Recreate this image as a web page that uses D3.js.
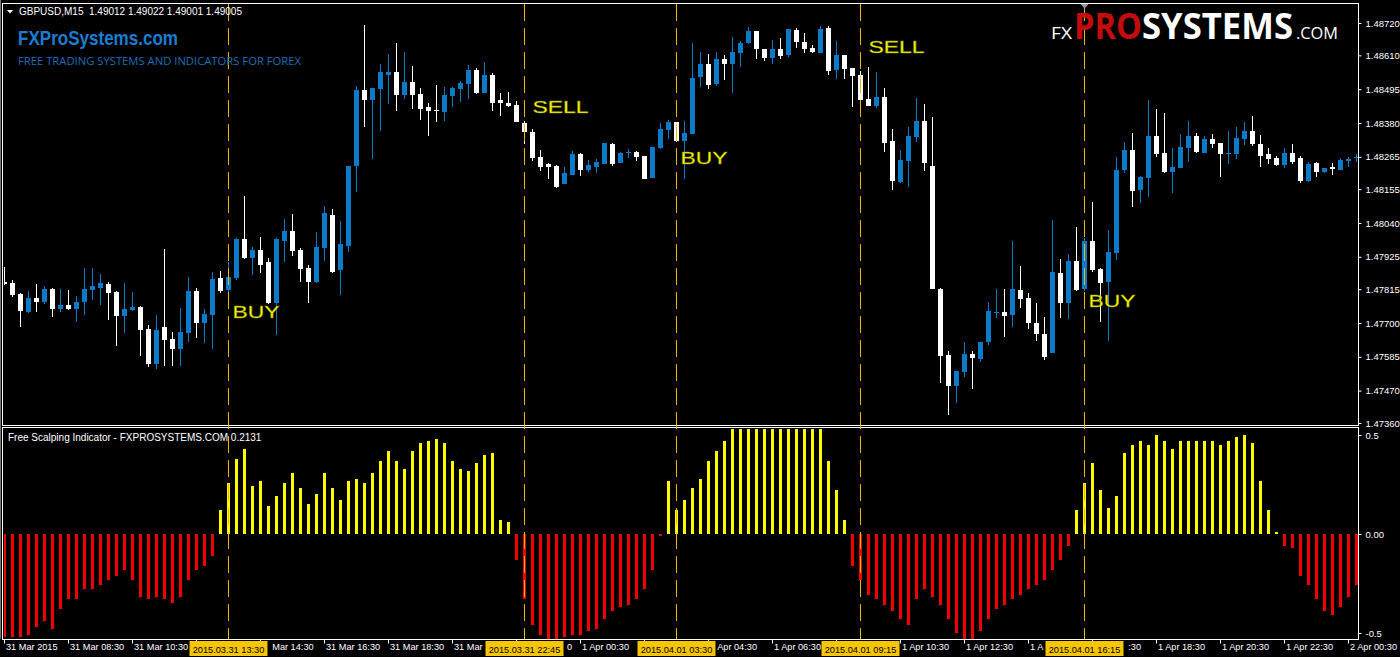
<!DOCTYPE html>
<html><head><meta charset="utf-8">
<script src="https://cdn.jsdelivr.net/npm/d3@7"></script>
<style>body{margin:0;background:#000;overflow:hidden}svg{display:block}</style>
</head><body>
<svg id="c" width="1400" height="657"></svg>
<script>
// ---------------- DATA ----------------
const symbolHeader = "GBPUSD,M15  1.49012 1.49022 1.49001 1.49005";
const indicatorTitle = "Free Scalping Indicator - FXPROSYSTEMS.COM 0.2131";

const openP = [
1.47839,1.47836,1.47799,1.47737,1.47785,1.47771,1.47816,1.47748,1.47761,1.47748,
1.47771,1.47812,1.47819,1.47833,1.47805,1.47724,1.47744,1.47754,1.47680,1.47561,
1.47686,1.47646,1.47612,1.47666,1.47809,1.47700,1.47727,1.47853,1.47812,1.47853,
1.47986,1.47921,1.47948,1.47907,1.47768,1.47979,1.48013,1.47948,1.47887,1.47839,
1.47955,1.48067,1.47880,1.47962,1.48234,1.48492,1.48458,1.48496,1.48543,1.48553,
1.48475,1.48519,1.48479,1.48434,1.48424,1.48417,1.48472,1.48496,1.48513,1.48560,
1.48482,1.48543,1.48458,1.48448,1.48441,1.48380,1.48349,1.48264,1.48241,1.48234,
1.48173,1.48203,1.48275,1.48220,1.48230,1.48241,1.48309,1.48244,1.48278,1.48281,
1.48268,1.48193,1.48295,1.48356,1.48383,1.48319,1.48343,1.48536,1.48581,1.48513,
1.48598,1.48581,1.48618,1.48652,1.48693,1.48632,1.48601,1.48632,1.48611,1.48696,
1.48655,1.48635,1.48618,1.48703,1.48560,1.48611,1.48567,1.48543,1.48462,1.48438,
1.48468,1.48319,1.48179,1.48251,1.48332,1.48387,1.48234,1.47816,1.47591,1.47486,
1.47533,1.47595,1.47578,1.47635,1.47734,1.47737,1.47727,1.47812,1.47785,1.47700,
1.47663,1.47598,1.47870,1.47768,1.47911,1.47816,1.47979,1.47884,1.47839,1.47938,
1.48220,1.48288,1.48152,1.48193,1.48336,1.48278,1.48213,1.48227,1.48295,1.48336,
1.48278,1.48326,1.48312,1.48275,1.48275,1.48326,1.48353,1.48309,1.48275,1.48261,
1.48237,1.48278,1.48261,1.48183,1.48244,1.48213,1.48230,1.48220,1.48251,1.48261];

const highP = [
1.47890,1.47846,1.47802,1.47809,1.47833,1.47826,1.47819,1.47816,1.47812,1.47792,
1.47887,1.47887,1.47867,1.47839,1.47809,1.47836,1.47805,1.47758,1.47693,1.47727,
1.47952,1.47669,1.47751,1.47856,1.47819,1.47748,1.47873,1.47877,1.47907,1.47989,
1.48132,1.47958,1.47992,1.47921,1.47989,1.48054,1.48071,1.47955,1.47897,1.48009,
1.48098,1.48088,1.48047,1.48234,1.48506,1.48713,1.48499,1.48581,1.48615,1.48652,
1.48621,1.48574,1.48499,1.48448,1.48509,1.48502,1.48502,1.48523,1.48577,1.48567,
1.48587,1.48550,1.48482,1.48485,1.48455,1.48387,1.48360,1.48288,1.48244,1.48237,
1.48230,1.48285,1.48278,1.48254,1.48258,1.48312,1.48312,1.48281,1.48292,1.48285,
1.48268,1.48298,1.48380,1.48390,1.48383,1.48387,1.48652,1.48621,1.48615,1.48621,
1.48611,1.48672,1.48659,1.48706,1.48693,1.48632,1.48662,1.48669,1.48700,1.48703,
1.48686,1.48645,1.48710,1.48710,1.48659,1.48611,1.48567,1.48557,1.48570,1.48553,
1.48499,1.48360,1.48288,1.48366,1.48465,1.48445,1.48400,1.47819,1.47605,1.47537,
1.47635,1.47605,1.47635,1.47771,1.47816,1.47816,1.47979,1.47894,1.47802,1.47768,
1.47720,1.48050,1.47918,1.47935,1.48026,1.47989,1.48111,1.47887,1.48016,1.48264,
1.48315,1.48346,1.48200,1.48458,1.48428,1.48414,1.48295,1.48343,1.48387,1.48346,
1.48336,1.48343,1.48312,1.48353,1.48366,1.48383,1.48404,1.48339,1.48295,1.48268,
1.48295,1.48309,1.48268,1.48247,1.48247,1.48227,1.48244,1.48261,1.48264,1.48275];

const lowP = [
1.47829,1.47788,1.47686,1.47734,1.47737,1.47765,1.47720,1.47737,1.47744,1.47703,
1.47727,1.47778,1.47761,1.47710,1.47622,1.47666,1.47741,1.47588,1.47550,1.47544,
1.47554,1.47554,1.47554,1.47635,1.47649,1.47632,1.47612,1.47802,1.47805,1.47846,
1.47918,1.47863,1.47870,1.47765,1.47659,1.47907,1.47928,1.47839,1.47768,1.47836,
1.47911,1.47870,1.47795,1.47941,1.48145,1.48366,1.48258,1.48353,1.48445,1.48421,
1.48462,1.48428,1.48390,1.48336,1.48383,1.48387,1.48434,1.48451,1.48462,1.48479,
1.48482,1.48421,1.48404,1.48434,1.48383,1.48309,1.48251,1.48217,1.48190,1.48159,
1.48173,1.48203,1.48200,1.48213,1.48210,1.48241,1.48234,1.48244,1.48261,1.48251,
1.48190,1.48193,1.48292,1.48326,1.48315,1.48190,1.48343,1.48502,1.48496,1.48506,
1.48526,1.48482,1.48570,1.48649,1.48598,1.48591,1.48581,1.48598,1.48604,1.48635,
1.48618,1.48618,1.48618,1.48543,1.48530,1.48530,1.48434,1.48451,1.48438,1.48431,
1.48281,1.48152,1.48176,1.48162,1.48315,1.48217,1.47816,1.47496,1.47387,1.47428,
1.47516,1.47476,1.47567,1.47625,1.47717,1.47652,1.47686,1.47751,1.47680,1.47639,
1.47574,1.47598,1.47717,1.47714,1.47809,1.47809,1.47873,1.47703,1.47639,1.47914,
1.48210,1.48094,1.48108,1.48128,1.48264,1.48210,1.48142,1.48227,1.48247,1.48278,
1.48278,1.48295,1.48196,1.48241,1.48258,1.48305,1.48302,1.48230,1.48241,1.48234,
1.48227,1.48241,1.48176,1.48179,1.48196,1.48210,1.48203,1.48220,1.48230,1.48247];

const closeP = [
1.47833,1.47795,1.47741,1.47785,1.47771,1.47816,1.47748,1.47761,1.47748,1.47771,
1.47816,1.47826,1.47836,1.47802,1.47724,1.47748,1.47754,1.47676,1.47561,1.47676,
1.47642,1.47612,1.47669,1.47809,1.47700,1.47731,1.47850,1.47809,1.47856,1.47986,
1.47921,1.47948,1.47897,1.47768,1.47986,1.48013,1.47945,1.47884,1.47839,1.47958,
1.48074,1.47873,1.47969,1.48234,1.48492,1.48458,1.48499,1.48553,1.48553,1.48475,
1.48519,1.48475,1.48428,1.48421,1.48421,1.48475,1.48499,1.48516,1.48560,1.48482,
1.48543,1.48448,1.48448,1.48438,1.48383,1.48349,1.48261,1.48230,1.48230,1.48162,
1.48210,1.48275,1.48220,1.48237,1.48247,1.48312,1.48241,1.48278,1.48281,1.48264,
1.48190,1.48298,1.48360,1.48383,1.48319,1.48346,1.48533,1.48581,1.48509,1.48598,
1.48581,1.48621,1.48652,1.48693,1.48632,1.48601,1.48632,1.48608,1.48700,1.48655,
1.48632,1.48621,1.48700,1.48557,1.48611,1.48564,1.48540,1.48458,1.48438,1.48468,
1.48312,1.48183,1.48254,1.48336,1.48387,1.48244,1.47816,1.47588,1.47486,1.47537,
1.47595,1.47581,1.47635,1.47741,1.47737,1.47724,1.47816,1.47782,1.47700,1.47663,
1.47584,1.47873,1.47768,1.47911,1.47812,1.47979,1.47880,1.47836,1.47941,1.48220,
1.48288,1.48149,1.48196,1.48336,1.48275,1.48213,1.48230,1.48298,1.48336,1.48281,
1.48326,1.48309,1.48275,1.48278,1.48329,1.48353,1.48309,1.48268,1.48258,1.48237,
1.48278,1.48247,1.48183,1.48241,1.48213,1.48227,1.48224,1.48254,1.48258,1.48264];

// Free Scalping Indicator histogram (one value per bar)
const scalpHist = [
-0.52,-0.52,-0.52,-0.51,-0.47,-0.44,-0.48,-0.38,-0.33,-0.33,
-0.28,-0.28,-0.26,-0.23,-0.21,-0.18,-0.23,-0.32,-0.33,-0.32,
-0.33,-0.35,-0.32,-0.23,-0.18,-0.16,-0.11,
0.12,0.26,0.38,0.43,0.24,0.27,0.14,0.19,0.26,0.31,0.23,0.15,0.20,0.31,0.23,0.17,0.27,0.28,0.26,0.31,0.37,0.42,0.37,0.33,0.42,0.46,0.47,0.48,0.46,0.37,0.33,0.32,0.36,0.40,0.41,0.07,0.06,
-0.13,-0.33,-0.46,-0.51,-0.53,-0.53,-0.52,-0.51,-0.51,-0.49,-0.48,-0.43,-0.39,-0.37,-0.36,-0.33,-0.28,-0.18,-0.01,
0.27,0.12,0.17,0.23,0.28,0.37,0.42,0.47,0.53,0.53,0.53,0.53,0.53,0.53,0.53,0.53,0.53,0.53,0.53,0.53,0.37,0.22,0.07,
-0.16,-0.23,-0.31,-0.33,-0.36,-0.39,-0.43,-0.46,-0.33,-0.28,-0.32,-0.36,-0.43,-0.50,-0.53,-0.53,-0.49,-0.43,-0.38,-0.36,-0.33,-0.31,-0.28,-0.26,-0.23,-0.18,-0.13,-0.06,
0.12,0.26,0.36,0.22,0.13,0.19,0.41,0.45,0.47,0.45,0.50,0.47,0.43,0.47,0.47,0.47,0.47,0.47,0.45,0.47,0.49,0.50,0.46,0.27,0.12,
0.01,
-0.06,-0.07,-0.21,-0.26,-0.33,-0.39,-0.41,-0.37,-0.32,-0.26];

const priceTicks = [1.48720,1.48610,1.48495,1.48380,1.48265,1.48155,1.48040,1.47925,1.47815,1.47700,1.47585,1.47470,1.47360];
const histTicks = [0.5, 0, -0.5];
const histTickLabels = ["0.5", "0.00", "-0.5"];
const timeTickIdx = [0,8,16,24,32,40,48,56,64,72,80,88,96,104,112,120,128,136,144,152,160,168];
const timeTickLabels = ["31 Mar 2015","31 Mar 08:30","31 Mar 10:30","31 Mar 12:30","31 Mar 14:30","31 Mar 16:30",
 "31 Mar 18:30","31 Mar 20:30","31 Mar 22:30","1 Apr 00:30","1 Apr 02:30","1 Apr 04:30","1 Apr 06:30",
 "1 Apr 08:30","1 Apr 10:30","1 Apr 12:30","1 Apr 14:30","1 Apr 16:30","1 Apr 18:30","1 Apr 20:30","1 Apr 22:30","2 Apr 00:30"];

const signalIdx = [28, 65, 84, 107, 135];
const signalType = ["BUY", "SELL", "BUY", "SELL", "BUY"];
const signalTime = ["2015.03.31 13:30","2015.03.31 22:45","2015.04.01 03:30","2015.04.01 09:15","2015.04.01 16:15"];
const signalLabelPrice = [1.47717, 1.48414, 1.48241, 1.48618, 1.47754];

// ---------------- DRAW ----------------
const svg = d3.select("#c");
const W = 1400, H = 657;
const N = openP.length;
const plotL = 3, plotR = 1358;
const mainT = 4, mainB = 426;
const subT = 428, subB = 639;

svg.append("rect").attr("width", W).attr("height", H).attr("fill", "#000");

const x = d3.scaleBand().domain(d3.range(N)).range([0.5, 0.5 + 8 * N]).padding(0);
const xc = i => x(i) + 4;
const y = d3.scaleLinear().domain([1.47360, 1.48720]).range([423, 23]);
const yh = d3.scaleLinear().domain([-0.5, 0.5]).range([633, 435]);

const defs = svg.append("defs");
defs.append("clipPath").attr("id", "clipMain").append("rect")
  .attr("x", plotL + 1).attr("y", mainT + 1).attr("width", plotR - plotL - 1).attr("height", mainB - mainT - 1);
defs.append("clipPath").attr("id", "clipSub").append("rect")
  .attr("x", plotL + 1).attr("y", subT + 1).attr("width", plotR - plotL - 1).attr("height", subB - subT - 1);

const COL_UP = "#0A7BC8", COL_DN = "#FFFFFF";
const candles = d3.range(N).map(i => ({i, o: openP[i], h: highP[i], l: lowP[i], c: closeP[i]}));

// candles
const gMain = svg.append("g").attr("clip-path", "url(#clipMain)").attr("shape-rendering", "crispEdges");
gMain.selectAll("rect.wick").data(candles).join("rect").attr("class", "wick")
  .attr("x", d => xc(d.i) - 0.5).attr("width", 1)
  .attr("y", d => Math.round(y(d.h)))
  .attr("height", d => Math.max(1, Math.round(y(d.l)) - Math.round(y(d.h))))
  .attr("fill", d => d.c >= d.o ? COL_UP : COL_DN);
gMain.selectAll("rect.body").data(candles).join("rect").attr("class", "body")
  .attr("x", d => xc(d.i) - 2.5).attr("width", 5)
  .attr("y", d => Math.round(y(Math.max(d.o, d.c))))
  .attr("height", d => Math.max(1, Math.round(y(Math.min(d.o, d.c))) - Math.round(y(Math.max(d.o, d.c)))))
  .attr("fill", d => d.c >= d.o ? COL_UP : COL_DN);

// histogram
const gSub = svg.append("g").attr("clip-path", "url(#clipSub)").attr("shape-rendering", "crispEdges");
gSub.selectAll("rect").data(scalpHist.map((v, i) => ({v, i}))).join("rect")
  .attr("x", d => xc(d.i) - 1.5).attr("width", 3)
  .attr("y", d => Math.min(yh(d.v), yh(0)))
  .attr("height", d => Math.max(1, Math.abs(yh(d.v) - yh(0))))
  .attr("fill", d => d.v >= 0 ? "#FFFF00" : "#F00000");

// panel frames
svg.append("rect").attr("x", plotL - 0.5).attr("y", mainT - 0.5).attr("width", plotR - plotL + 1).attr("height", mainB - mainT)
  .attr("fill", "none").attr("stroke", "#fff").attr("stroke-width", 1).attr("shape-rendering", "crispEdges");
svg.append("rect").attr("x", plotL - 0.5).attr("y", subT - 0.5).attr("width", plotR - plotL + 1).attr("height", subB - subT + 0.5)
  .attr("fill", "none").attr("stroke", "#fff").attr("stroke-width", 1).attr("shape-rendering", "crispEdges");
svg.append("line").attr("x1", 0.5).attr("x2", 0.5).attr("y1", 0).attr("y2", subB).attr("stroke", "#777");

// signal vertical dashed lines + labels
const gSig = svg.append("g");
signalIdx.forEach((k, j) => {
  gSig.append("line").attr("x1", xc(k)).attr("x2", xc(k)).attr("y1", mainT).attr("y2", subB)
    .attr("stroke", "#F2B705").attr("stroke-width", 1).attr("stroke-dasharray", "17,7")
    .attr("shape-rendering", "crispEdges");
  const isBuy = signalType[j] === "BUY";
  gSig.append("text").attr("x", xc(k) + (isBuy ? 4 : 8)).attr("y", y(signalLabelPrice[j]))
    .attr("font-family", "Liberation Sans, Arial, sans-serif").attr("font-size", 17)
    .attr("fill", "#FFFF00").attr("stroke", "#8a8a00").attr("stroke-width", 0.4)
    .attr("textLength", isBuy ? 47 : 56).attr("lengthAdjust", "spacingAndGlyphs")
    .text(signalType[j]);
});

// right price axis
const axisFont = "Liberation Sans, Arial, sans-serif";
const axisSize = 9.2;
const yAxis = d3.axisRight(y).tickValues(priceTicks).tickFormat(d3.format(".5f")).tickSize(3).tickPadding(4);
const gY = svg.append("g").attr("transform", `translate(${plotR + 0.5},0)`).call(yAxis);
gY.select(".domain").remove();
gY.selectAll("line").attr("stroke", "#fff");
gY.selectAll("text").attr("fill", "#fff").attr("font-family", axisFont).attr("font-size", 9.5);

const hAxis = d3.axisRight(yh).tickValues(histTicks).tickFormat((d, i) => histTickLabels[i]).tickSize(3).tickPadding(4);
const gH = svg.append("g").attr("transform", `translate(${plotR + 0.5},0)`).call(hAxis);
gH.select(".domain").remove();
gH.selectAll("line").attr("stroke", "#fff");
gH.selectAll("text").attr("fill", "#fff").attr("font-family", axisFont).attr("font-size", 9.5);

// bottom time axis
const xt = d3.scaleLinear().domain([0, N - 1]).range([xc(0), xc(N - 1)]);
const xAxis = d3.axisBottom(xt).tickValues(timeTickIdx).tickFormat((d, i) => timeTickLabels[i]).tickSize(4).tickPadding(3);
const gX = svg.append("g").attr("transform", `translate(-0.5,${subB + 0.5})`).call(xAxis);
gX.select(".domain").remove();
gX.selectAll("line").attr("stroke", "#fff");
gX.selectAll("text").attr("fill", "#fff").attr("font-family", axisFont).attr("font-size", axisSize)
  .attr("text-anchor", "start").attr("x", 1.5).attr("y", 4).attr("dy", "0.71em");

// signal time boxes cover the tick labels beneath them: keep only the glyphs left visible
const boxHalf = 39;
const boxes = signalIdx.map(k => [xc(k) - boxHalf, xc(k) + boxHalf]);
gX.selectAll(".tick").each(function (d) {
  const t = d3.select(this).select("text");
  const node = t.node();
  const str = node.textContent;
  const left = xt(d) - 0.5 + 1.5;
  const n = str.length;
  const starts = [], ends = [];
  for (let i = 0; i < n; i++) {
    const s = left + (i ? node.getSubStringLength(0, i) : 0);
    starts.push(s); ends.push(s + node.getSubStringLength(i, 1));
  }
  const visible = d3.range(n).map(i => boxes.every(b => ends[i] <= b[0] + 0.5 || starts[i] >= b[1] - 0.5));
  if (visible.every(v => v)) return;
  const first = visible.indexOf(true);
  if (first < 0) { t.remove(); return; }
  let last = first;
  while (last + 1 < n && visible[last + 1]) last++;
  const kept = str.slice(first, last + 1);
  if (!kept.trim()) { t.remove(); return; }
  t.attr("x", 1.5 + (first ? node.getSubStringLength(0, first) : 0)).text(kept);
});

// highlighted signal time boxes
signalIdx.forEach((k, j) => {
  const cx = xc(k);
  svg.append("rect").attr("x", cx - boxHalf).attr("y", 641).attr("width", boxHalf * 2).attr("height", 15).attr("fill", "#F7C600");
  svg.append("text").attr("x", cx).attr("y", 652.5).attr("text-anchor", "middle")
    .attr("font-family", axisFont).attr("font-size", axisSize).attr("fill", "#000").text(signalTime[j]);
});

// header
svg.append("path").attr("d", "M7,10 L13,10 L10,13.5 Z").attr("fill", "#fff");
svg.append("text").attr("x", 19).attr("y", 15).attr("font-family", axisFont).attr("font-size", 10)
  .attr("fill", "#fff").attr("xml:space", "preserve").text(symbolHeader);

// left watermark
svg.append("text").attr("x", 18).attr("y", 44.5)
  .attr("font-family", "Liberation Sans Narrow, Liberation Sans, Arial, sans-serif").attr("font-weight", "bold")
  .attr("font-size", 21).attr("fill", "#1C7DD0").attr("textLength", 160).attr("lengthAdjust", "spacingAndGlyphs")
  .text("FXProSystems.com");
svg.append("text").attr("x", 18).attr("y", 65)
  .attr("font-family", "Open Sans, Liberation Sans, sans-serif").attr("font-size", 11)
  .attr("fill", "#1A6EB4").attr("textLength", 283).attr("lengthAdjust", "spacingAndGlyphs")
  .text("FREE TRADING SYSTEMS AND INDICATORS FOR FOREX");

// right logo
svg.append("text").attr("x", 1051).attr("y", 39).attr("font-family", "Open Sans, sans-serif").attr("font-size", 17)
  .attr("fill", "#fff").attr("textLength", 21).attr("lengthAdjust", "spacingAndGlyphs").text("FX");
svg.append("text").attr("x", 1074).attr("y", 39).attr("font-family", "Open Sans, sans-serif").attr("font-weight", "bold")
  .attr("font-size", 36).attr("fill", "#C40C0C").attr("textLength", 68).attr("lengthAdjust", "spacingAndGlyphs").text("PRO");
svg.append("text").attr("x", 1142).attr("y", 39).attr("font-family", "Open Sans, sans-serif").attr("font-weight", "bold")
  .attr("font-size", 36).attr("fill", "#fff").attr("textLength", 151).attr("lengthAdjust", "spacingAndGlyphs").text("SYSTEMS");
svg.append("text").attr("x", 1296).attr("y", 39).attr("font-family", "Open Sans, sans-serif").attr("font-size", 16)
  .attr("fill", "#fff").attr("textLength", 42).attr("lengthAdjust", "spacingAndGlyphs").text(".COM");
// chart shift marker
svg.append("path").attr("d", `M${xc(135) - 4},4 L${xc(135) + 4},4 L${xc(135)},8.5 Z`).attr("fill", "#8C9BAA");

// indicator title
svg.append("text").attr("x", 8).attr("y", 441).attr("font-family", axisFont).attr("font-size", 10)
  .attr("fill", "#fff").text(indicatorTitle);
</script>
</body></html>
